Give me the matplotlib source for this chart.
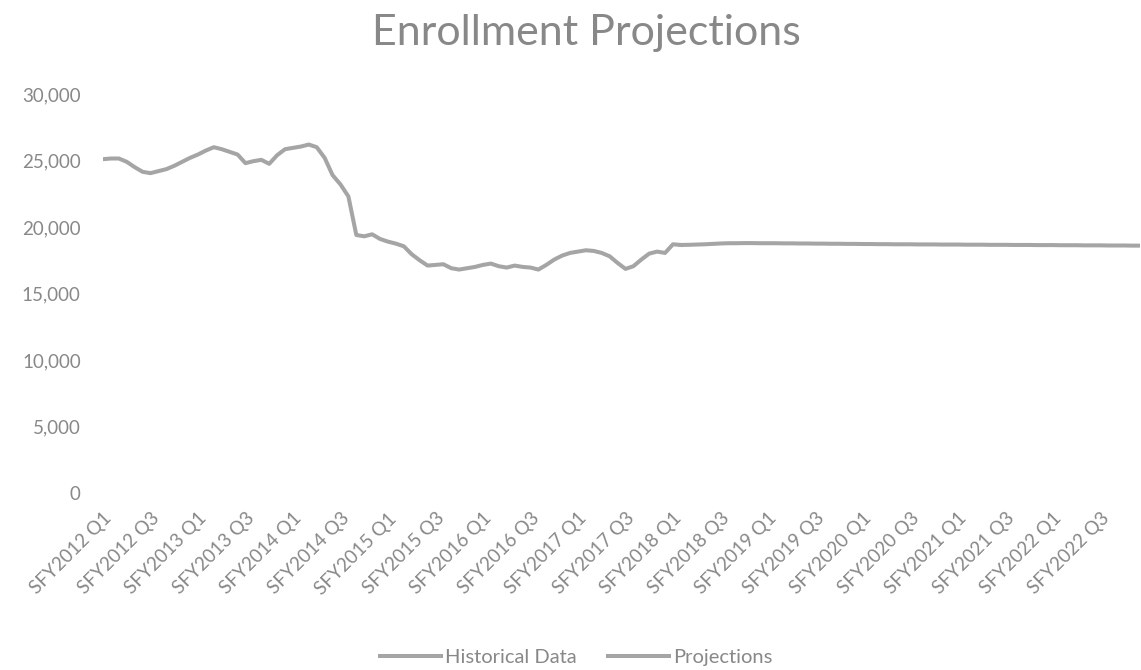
import matplotlib.pyplot as plt
from matplotlib.ticker import FuncFormatter

plt.rcParams['font.family'] = ['Lato', 'DejaVu Sans']

# monthly enrollment, SFY2012 Q1 .. SFY2018 Q1 (historical)
historical = [25100, 25150, 25150, 24900, 24500, 24150, 24050, 24200, 24350, 24600,
              24900, 25200, 25450, 25750, 26000, 25850, 25650, 25450, 24800, 24950,
              25050, 24750, 25400, 25850, 25950, 26050, 26200, 26000, 25200, 23900,
              23200, 22300, 19400, 19300, 19450, 19100, 18900, 18750, 18550, 17950,
              17500, 17100, 17150, 17200, 16900, 16800, 16900, 17000, 17150, 17250,
              17050, 16950, 17100, 17000, 16950, 16800, 17150, 17550, 17850, 18050,
              18150, 18250, 18200, 18050, 17800, 17300, 16850, 17050, 17550, 18000,
              18150, 18050, 18700, 18650]

# projections continue from the last historical month
projections = [18650, 18660, 18680, 18700, 18730, 18760, 18780, 18780, 18790, 18790,
               18780, 18780, 18780, 18770, 18770, 18760, 18760, 18750, 18750, 18740,
               18740, 18730, 18730, 18720, 18720, 18710, 18710, 18700, 18700, 18700,
               18690, 18690, 18690, 18680, 18680, 18680, 18670, 18670, 18670, 18660,
               18660, 18660, 18650, 18650, 18650, 18640, 18640, 18640, 18630, 18630,
               18630, 18620, 18620, 18620, 18610, 18610, 18610, 18600, 18600]

years = list(range(2012, 2023))
tick_labels = []
for y in years:
    tick_labels += [f"SFY{y} Q1", f"SFY{y} Q3"]

n_hist = len(historical)
x_hist = list(range(n_hist))
x_proj = list(range(n_hist - 1, n_hist - 1 + len(projections)))

line_c = "#a5a5a5"
text_c = "#888888"

fig = plt.figure(figsize=(11.41, 6.70), dpi=100)
ax = fig.add_axes([103 / 1141, 1 - 493 / 670, 1037 / 1141, 399 / 670])

ax.plot(x_hist, historical, color=line_c, lw=2.9, label="Historical Data")
ax.plot(x_proj, projections, color=line_c, lw=2.9, label="Projections")

ax.set_ylim(0, 30000)
ax.set_xlim(0, x_proj[-1])
ax.set_yticks(range(0, 30001, 5000))
ax.yaxis.set_major_formatter(FuncFormatter(lambda v, p: f"{int(v):,}"))
ax.set_xticks(range(0, 6 * len(tick_labels), 6))
ax.set_xticklabels(tick_labels, rotation=45, ha="right", rotation_mode="anchor")

for s in ax.spines.values():
    s.set_visible(False)
ax.tick_params(axis="both", length=0, labelsize=13.5, colors=text_c)
ax.tick_params(axis="y", pad=16)
ax.tick_params(axis="x", pad=12)

fig.text(586 / 1141, 1 - 45 / 670, "Enrollment Projections", ha="center", va="baseline",
         fontsize=31, color=text_c)

fig.legend(loc="center", bbox_to_anchor=(0.505, 1 - 657 / 670), ncol=2, frameon=False,
           fontsize=14.5, labelcolor=text_c, handlelength=3.0, columnspacing=1.6,
           handletextpad=0.2)

fig.savefig("out.png", dpi=100)
